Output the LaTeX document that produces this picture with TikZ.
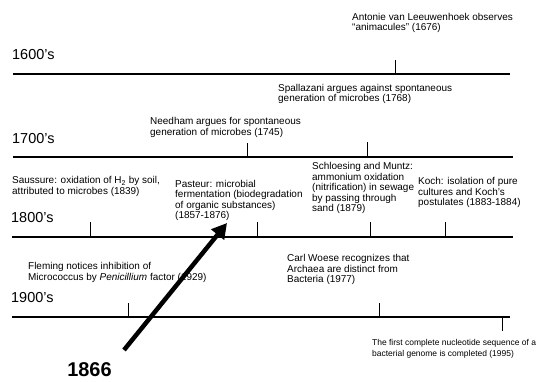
\documentclass[tikz,border=0pt]{standalone}
\usepackage{fontspec}
\setmainfont{Liberation Sans}
\usetikzlibrary{arrows.meta}
\newcommand\rowsof[1]{\vtop{\halign{##\hfil\cr#1\crcr}}}
\begin{document}
\begin{tikzpicture}[x=1bp,y=-1bp,
  tline/.style={line width=2.6bp},
  tick/.style={line width=0.9bp},
  ev/.style={anchor=base west, inner sep=0, font=\fontsize{10}{10.6}\selectfont},
  evs/.style={anchor=base west, inner sep=0, font=\fontsize{8.5}{10.6}\selectfont},
  yr/.style={anchor=base west, inner sep=0, font=\fontsize{14.5}{16}\selectfont},
  big/.style={inner sep=0, font=\fontsize{20}{22}\selectfont\bfseries},
  bigarrow/.style={line width=4.5bp, -{Triangle[length=15bp,width=16bp]}}]
\useasboundingbox (0,0) rectangle (538,381);

% ---- 1600's ----
\node[yr] (y16) at (12,59) {1600’s};
\coordinate (l16a) at (13,74); \coordinate (l16b) at (510,74);
\draw[tline] (l16a) -- (l16b);
\coordinate (k1676) at (395,74); \coordinate (k1676t) at (395,60);
\draw[tick] (k1676) -- (k1676t);
\node[ev] (e1676) at (352,20) {\rowsof{Antonie van Leeuwenhoek observes\cr “animacules” (1676)}};

% ---- 1700's ----
\node[yr] (y17) at (12,143) {1700’s};
\coordinate (l17a) at (13,157); \coordinate (l17b) at (513,157);
\draw[tline] (l17a) -- (l17b);
\coordinate (k1745) at (247,157); \coordinate (k1745t) at (247,143);
\draw[tick] (k1745) -- (k1745t);
\coordinate (k1768) at (367,157); \coordinate (k1768t) at (367,142);
\draw[tick] (k1768) -- (k1768t);
\node[ev] (e1768) at (278,91) {\rowsof{Spallazani argues against spontaneous\cr generation of microbes (1768)}};
\node[ev] (e1745) at (150,124.5) {\rowsof{Needham argues for spontaneous\cr generation of microbes (1745)}};

% ---- 1800's ----
\node[yr] (y18) at (11,222) {1800’s};
\coordinate (l18a) at (12,237); \coordinate (l18b) at (513,237);
\draw[tline] (l18a) -- (l18b);
\foreach \xx/\nm in {90/k1839, 257/k1857, 370/k1879, 445/k1883}{
  \coordinate (\nm) at (\xx,237); \coordinate (\nm t) at (\xx,222);
  \draw[tick] (\nm) -- (\nm t);
}
\node[ev] (e1839) at (12,183.5) {\rowsof{Saussure: oxidation of H\textsubscript{2} by soil,\cr attributed to microbes (1839)}};
\node[ev] (e1857) at (175,187) {\rowsof{Pasteur: microbial\cr fermentation (biodegradation\cr of organic substances)\cr (1857-1876)}};
\node[ev] (e1879) at (312,169.5) {\rowsof{Schloesing and Muntz:\cr ammonium oxidation\cr (nitrification) in sewage\cr by passing through\cr sand (1879)}};
\node[ev] (e1883) at (418,184.5) {\rowsof{Koch: isolation of pure\cr cultures and Koch’s\cr postulates (1883-1884)}};

% ---- 1900's ----
\node[yr] (y19) at (11,302) {1900’s};
\coordinate (l19a) at (12,317); \coordinate (l19b) at (510,317);
\draw[tline] (l19a) -- (l19b);
\coordinate (k1929) at (128,317); \coordinate (k1929t) at (128,303);
\draw[tick] (k1929) -- (k1929t);
\coordinate (k1977) at (379,317); \coordinate (k1977t) at (379,303);
\draw[tick] (k1977) -- (k1977t);
\coordinate (k1995) at (502,317); \coordinate (k1995t) at (502,331);
\draw[tick] (k1995) -- (k1995t);
\node[ev] (e1929) at (28,269.5) {\rowsof{Fleming notices inhibition of\cr Micrococcus by \textit{Penicillium} factor (1929)}};
\node[ev] (e1977) at (287,261.5) {\rowsof{Carl Woese recognizes that\cr Archaea are distinct from\cr Bacteria (1977)}};
\node[evs] (e1995) at (372,345.5) {\rowsof{The first complete nucleotide sequence of a\cr bacterial genome is completed (1995)}};

% ---- 1866 arrow ----
\node[big] (n1866) at (89.5,369.5) {1866};
\coordinate (as) at (124,350); \coordinate (ae) at (227,223);
\draw[bigarrow] (as) -- (ae);
\end{tikzpicture}
\end{document}
